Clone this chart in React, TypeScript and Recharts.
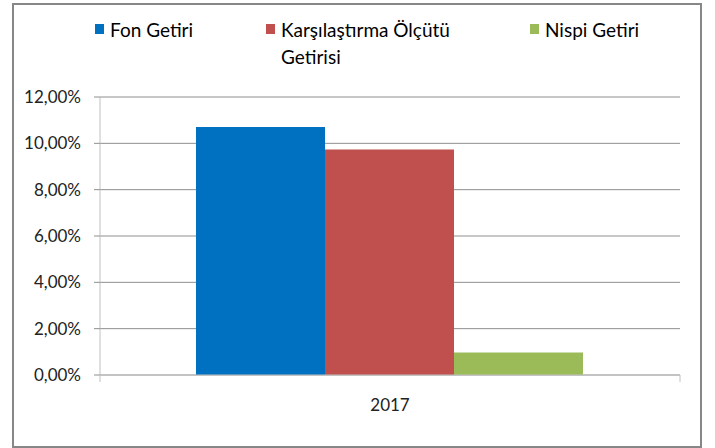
import { BarChart, Bar, XAxis, YAxis, CartesianGrid } from 'recharts';

const CATEGORIES = ['2017'];
const FON_GETIRI = [0.107];
const KARSILASTIRMA_OLCUTU = [0.0973];
const NISPI_GETIRI = [0.0097];

const SERIES_KEYS = ['fon', 'olcut', 'nispi'];
const SERIES_NAMES = ['Fon Getiri', 'Karşılaştırma Ölçütü Getirisi', 'Nispi Getiri'];
const SERIES_COLORS = ['#0070C0', '#C0504D', '#9BBB59'];
const Y_TICKS = [0, 0.02, 0.04, 0.06, 0.08, 0.1, 0.12];

const data = CATEGORIES.map((year, i) => ({
  year,
  fon: FON_GETIRI[i],
  olcut: KARSILASTIRMA_OLCUTU[i],
  nispi: NISPI_GETIRI[i],
}));

const W = 715;
const H = 448;
const FONT = 'Lato, "Open Sans", sans-serif';
const PLOT_LEFT = 100;
const PLOT_RIGHT = 680;
const PLOT_BOTTOM = 375;
const X_AXIS_H = 40;

const formatPct = (v: number) => (v * 100).toFixed(2).replace('.', ',') + '%';

function CategoryTick(props: any) {
  const { x, payload } = props;
  const half = (PLOT_RIGHT - PLOT_LEFT) / CATEGORIES.length / 2;
  return (
    <g>
      <line x1={x - half} x2={x - half} y1={PLOT_BOTTOM} y2={PLOT_BOTTOM + 7} stroke="#c0c0c0" />
      <line x1={x + half} x2={x + half} y1={PLOT_BOTTOM} y2={PLOT_BOTTOM + 7} stroke="#c0c0c0" />
      <text x={x} y={PLOT_BOTTOM + 36} textAnchor="middle" fill="#222" fontSize={17} fontFamily={FONT}>
        {payload.value}
      </text>
    </g>
  );
}

const LEGEND_WIDTHS = [171, 264, 170];

export default function App() {
  return (
    <div style={{ position: 'absolute', left: 0, top: 0, width: W, height: H, background: '#fff' }}>
      <div
        style={{
          position: 'absolute',
          left: 12,
          top: 3,
          width: 690,
          height: 445,
          boxSizing: 'border-box',
          border: '2px solid #878787',
        }}
      />
      <div
        style={{
          position: 'absolute',
          left: 95,
          top: 16,
          display: 'flex',
          fontFamily: FONT,
          fontSize: 19,
          color: '#000',
          lineHeight: '27px',
        }}
      >
        {SERIES_NAMES.map((name, i) => (
          <div key={name} style={{ width: LEGEND_WIDTHS[i], display: 'flex', alignItems: 'flex-start' }}>
            <span
              style={{
                width: 9,
                height: 10,
                marginTop: 8,
                marginRight: 6,
                flex: 'none',
                background: SERIES_COLORS[i],
              }}
            />
            <span style={{ maxWidth: 185 }}>{name}</span>
          </div>
        ))}
      </div>
      <BarChart
        width={W}
        height={H}
        data={data}
        margin={{ top: 97, right: W - PLOT_RIGHT, bottom: H - PLOT_BOTTOM - X_AXIS_H, left: 0 }}
        barCategoryGap={96}
        barGap={0}
        style={{ position: 'absolute', left: 0, top: 0 }}
      >
        <CartesianGrid vertical={false} stroke="#8e8e8e" />
        <XAxis
          dataKey="year"
          height={X_AXIS_H}
          axisLine={{ stroke: '#c0c0c0' }}
          tickLine={false}
          tick={<CategoryTick />}
        />
        <YAxis
          width={PLOT_LEFT}
          domain={[0, 0.12]}
          ticks={Y_TICKS}
          tickFormatter={formatPct}
          axisLine={{ stroke: '#c0c0c0' }}
          tickLine={{ stroke: '#8e8e8e' }}
          tickSize={6}
          tickMargin={13}
          tick={{ fill: '#222', fontSize: 17, fontFamily: FONT }}
        />
        {SERIES_KEYS.map((k, i) => (
          <Bar key={k} dataKey={k} name={SERIES_NAMES[i]} fill={SERIES_COLORS[i]} isAnimationActive={false} />
        ))}
      </BarChart>
    </div>
  );
}
